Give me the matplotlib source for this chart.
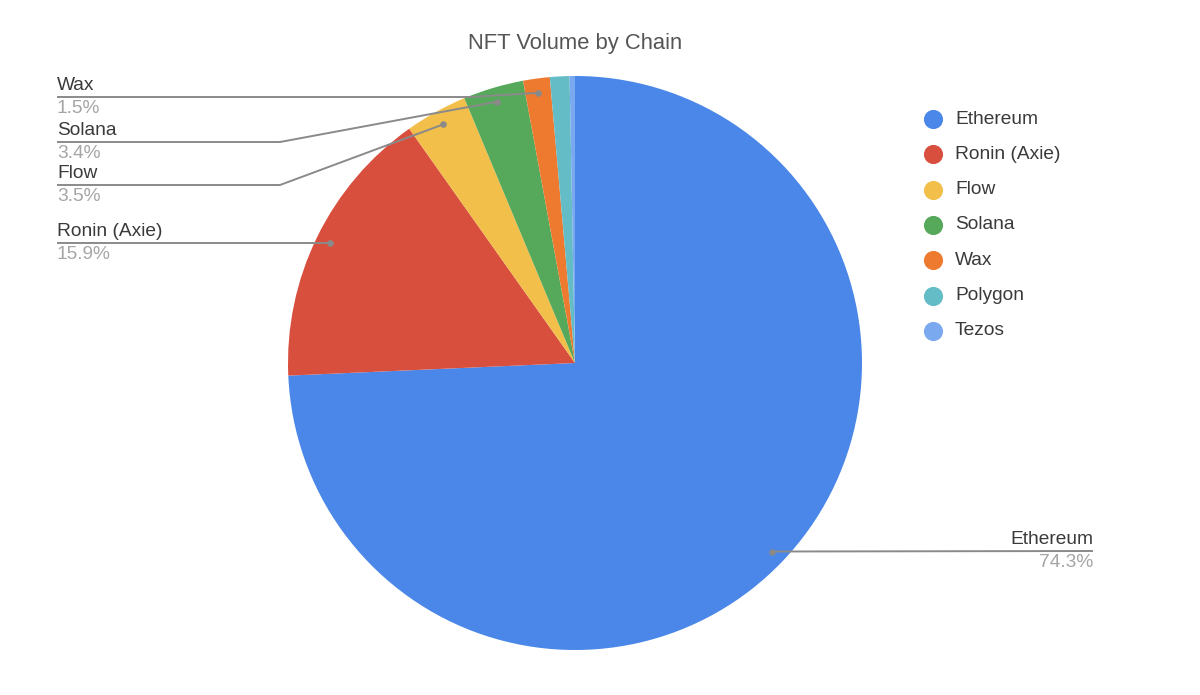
import numpy as np
from matplotlib import pyplot as plt

plt.rcParams['font.family'] = ['Liberation Sans', 'DejaVu Sans']

##  NFT volume share per chain (percent)
CHAINS = ["Ethereum", "Ronin (Axie)", "Flow", "Solana", "Wax", "Polygon", "Tezos"]
SHARES = [74.3, 15.9, 3.5, 3.4, 1.5, 1.1, 0.3]
COLORS = ["#4a87e8", "#d84f3e", "#f1bf4a", "#56a85b", "#ee7a30", "#63bcc6", "#7ba9f0"]
PCT_LABELS = ["74.3%", "15.9%", "3.5%", "3.4%", "1.5%", "", ""]

W, H = 1200, 695
CX, CY, R = 575, 363, 287


def py(y):
    # pixel row (from top) -> data y
    return H - y


figure = plt.figure(figsize=(12, 6.95), dpi=100)
ax = figure.add_axes([0, 0, 1, 1])

wedges, _ = ax.pie(SHARES, colors=COLORS, startangle=90, counterclock=False,
                   center=(CX, py(CY)), radius=R,
                   wedgeprops=dict(linewidth=0))
ax.set_xlim(0, W)
ax.set_ylim(0, H)
ax.set_aspect('equal')
ax.axis('off')

ax.text(CX, py(43), "NFT Volume by Chain", ha='center', va='center',
        fontsize=15.8, color='#555555')

# leader lines: (label line y in pixels, elbow x, side)
LEADERS = {
    "Wax": (97, 470, 'left'),
    "Solana": (142, 280, 'left'),
    "Flow": (185, 280, 'left'),
    "Ronin (Axie)": (243, 305, 'left'),
    "Ethereum": (551, None, 'right'),
}

cum = np.cumsum([0] + SHARES)
for i, name in enumerate(CHAINS):
    if name not in LEADERS:
        continue
    mid = (cum[i] + cum[i + 1]) / 2 / sum(SHARES)
    ang = np.deg2rad(90 - mid * 360)
    dx = CX + 0.95 * R * np.cos(ang)
    dy = py(CY) + 0.95 * R * np.sin(ang)
    ly, elbow, side = LEADERS[name]
    if side == 'left':
        xs = [57, elbow, dx]
        ys = [py(ly), py(ly), dy]
        tx, ha = 57, 'left'
    else:
        xs = [dx, 1093]
        ys = [dy, py(ly)]
        tx, ha = 1093, 'right'
    ax.plot(xs, ys, color='#8a8a8a', linewidth=1.4, solid_capstyle='butt')
    ax.scatter([dx], [dy], s=14, color='#8a8a8a', zorder=5)
    ax.text(tx, py(ly) + 3, name, ha=ha, va='bottom', fontsize=13.8, color='#3a3a3a')
    ax.text(tx, py(ly) - 3, PCT_LABELS[i], ha=ha, va='top', fontsize=13.8, color='#a5a5a5')

# legend
for i, name in enumerate(CHAINS):
    yy = py(119 + i * 35.3)
    ax.scatter([933], [yy], s=190, color=COLORS[i], linewidths=0)
    ax.text(955, yy, name, ha='left', va='center', fontsize=13.8, color='#3a3a3a')

figure.savefig("out.png", dpi=100, facecolor='white')
plt.close(figure)
